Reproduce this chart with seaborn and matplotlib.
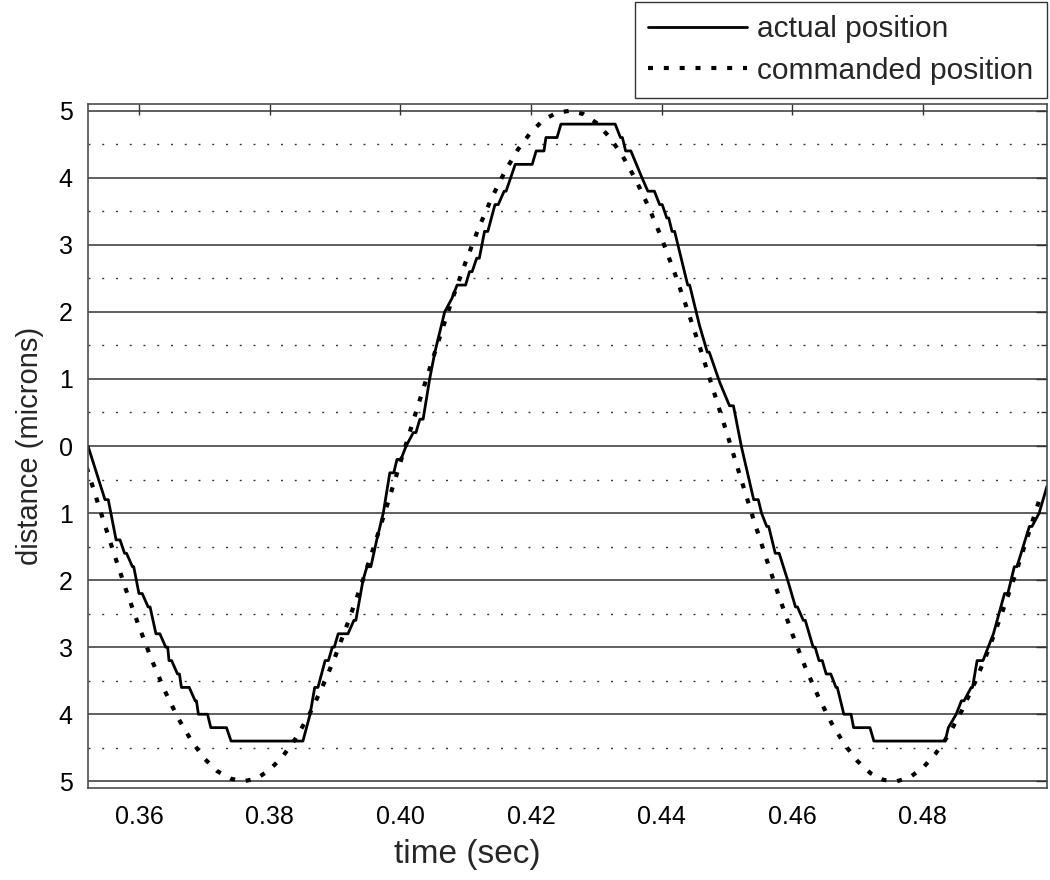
import matplotlib
matplotlib.use("Agg")
import matplotlib.pyplot as plt
import seaborn as sns
from matplotlib.ticker import FixedLocator, FixedFormatter, MultipleLocator

# commanded position (microns), sampled every 2 ms
cmd_t = [0.352, 0.354, 0.356, 0.358, 0.360, 0.362, 0.364, 0.366, 0.368, 0.370,
         0.372, 0.374, 0.376, 0.378, 0.380, 0.382, 0.384, 0.386, 0.388, 0.390,
         0.392, 0.394, 0.396, 0.398, 0.400, 0.402, 0.404, 0.406, 0.408, 0.410,
         0.412, 0.414, 0.416, 0.418, 0.420, 0.422, 0.424, 0.426, 0.428, 0.430,
         0.432, 0.434, 0.436, 0.438, 0.440, 0.442, 0.444, 0.446, 0.448, 0.450,
         0.452, 0.454, 0.456, 0.458, 0.460, 0.462, 0.464, 0.466, 0.468, 0.470,
         0.472, 0.474, 0.476, 0.478, 0.480, 0.482, 0.484, 0.486, 0.488, 0.490,
         0.492, 0.494, 0.496, 0.498]
cmd_y = [-0.32, -0.94, -1.55, -2.14, -2.69, -3.20, -3.66, -4.06, -4.39, -4.66,
         -4.85, -4.96, -5.00, -4.96, -4.83, -4.63, -4.36, -4.02, -3.61, -3.15,
         -2.63, -2.08, -1.49, -0.88, -0.25, 0.38, 1.00, 1.61, 2.20, 2.74,
         3.25, 3.70, 4.09, 4.42, 4.68, 4.87, 4.97, 5.00, 4.95, 4.82,
         4.61, 4.33, 3.98, 3.57, 3.10, 2.58, 2.02, 1.43, 0.81, 0.19,
         -0.44, -1.07, -1.67, -2.25, -2.80, -3.30, -3.74, -4.13, -4.45, -4.70,
         -4.88, -4.98, -5.00, -4.94, -4.80, -4.58, -4.30, -3.94, -3.52, -3.05,
         -2.52, -1.96, -1.36, -0.75]

# actual position (microns), stair-stepped readout
act_t = [0.3522,
         0.3548, 0.3553, 0.3565, 0.3571, 0.3578, 0.3581, 0.3590, 0.3592,
         0.3600, 0.3605, 0.3614, 0.3617, 0.3626, 0.3632, 0.3641, 0.3644,
         0.3646, 0.3650, 0.3659, 0.3662, 0.3665, 0.3677, 0.3686, 0.3688,
         0.3691, 0.3705, 0.3710, 0.3734, 0.3741, 0.3851,
         0.3862, 0.3869, 0.3874, 0.3885, 0.3890, 0.3896, 0.3899, 0.3905,
         0.3920, 0.3929, 0.3932, 0.3943, 0.3949, 0.3955, 0.3964, 0.3974,
         0.3984, 0.3990, 0.3995, 0.4001, 0.4009, 0.4020, 0.4024, 0.4030,
         0.4035, 0.4045, 0.4053, 0.4068, 0.4079, 0.4087, 0.4100, 0.4106,
         0.4110, 0.4117, 0.4121, 0.4129, 0.4134, 0.4145, 0.4150, 0.4159,
         0.4162, 0.4169, 0.4176, 0.4202, 0.4208, 0.4220, 0.4223, 0.4240,
         0.4246, 0.4329,
         0.4337, 0.4340, 0.4345, 0.4353, 0.4370, 0.4379, 0.4389, 0.4397,
         0.4401, 0.4408, 0.4411, 0.4416, 0.4420, 0.4430, 0.4440, 0.4443,
         0.4458, 0.4470, 0.4473, 0.4489, 0.4504, 0.4510, 0.4522, 0.4541,
         0.4548, 0.4553, 0.4561, 0.4564, 0.4574, 0.4580, 0.4593, 0.4605,
         0.4608, 0.4617, 0.4620, 0.4632, 0.4635, 0.4641, 0.4646, 0.4652,
         0.4659, 0.4667, 0.4669, 0.4679, 0.4690, 0.4694, 0.4719, 0.4725,
         0.4834,
         0.4839, 0.4851, 0.4859, 0.4863, 0.4874, 0.4876, 0.4883, 0.4892,
         0.4900, 0.4908, 0.4925, 0.4930, 0.4940, 0.4944, 0.4963, 0.4967,
         0.4978, 0.4990]
act_y = [0.00,
         -0.80, -0.80, -1.40, -1.40, -1.60, -1.60, -1.80, -1.80,
         -2.20, -2.20, -2.40, -2.40, -2.80, -2.80, -3.00, -3.00,
         -3.20, -3.20, -3.40, -3.40, -3.60, -3.60, -3.80, -3.80,
         -4.00, -4.00, -4.20, -4.20, -4.40, -4.40,
         -4.00, -3.60, -3.60, -3.20, -3.20, -3.00, -3.00, -2.80,
         -2.80, -2.60, -2.60, -2.00, -1.80, -1.80, -1.40, -1.00,
         -0.40, -0.40, -0.20, -0.20, 0.00, 0.20, 0.20, 0.40,
         0.40, 1.00, 1.40, 2.00, 2.20, 2.40, 2.40, 2.60,
         2.60, 2.80, 2.80, 3.20, 3.20, 3.60, 3.60, 3.80,
         3.80, 4.00, 4.20, 4.20, 4.40, 4.40, 4.60, 4.60,
         4.80, 4.80,
         4.60, 4.60, 4.40, 4.40, 4.00, 3.80, 3.80, 3.60,
         3.60, 3.40, 3.40, 3.20, 3.20, 2.80, 2.40, 2.40,
         1.80, 1.40, 1.40, 0.95, 0.60, 0.60, 0.00, -0.80,
         -0.80, -1.00, -1.20, -1.20, -1.60, -1.60, -2.00, -2.40,
         -2.40, -2.60, -2.60, -3.00, -3.00, -3.20, -3.20, -3.40,
         -3.40, -3.60, -3.60, -4.00, -4.00, -4.20, -4.20, -4.40,
         -4.40,
         -4.20, -4.00, -3.80, -3.80, -3.60, -3.60, -3.20, -3.20,
         -3.00, -2.80, -2.20, -2.20, -1.80, -1.80, -1.20, -1.20,
         -1.00, -0.60]

x_ticks = [0.36, 0.38, 0.40, 0.42, 0.44, 0.46, 0.48]
x_tick_labels = ["0.36", "0.38", "0.40", "0.42", "0.44", "0.46", "0.48"]
y_ticks = [-5, -4, -3, -2, -1, 0, 1, 2, 3, 4, 5]
y_tick_labels = ["5", "4", "3", "2", "1", "0", "1", "2", "3", "4", "5"]

sns.set_style("white")
plt.rcParams['font.family'] = ['Liberation Sans', 'DejaVu Sans']

fig = plt.figure(figsize=(10.5, 8.8), dpi=100)
ax = fig.add_axes([88 / 1050, 1 - 788 / 880, (1047 - 88) / 1050, (788 - 104) / 880])

sns.lineplot(x=act_t, y=act_y, ax=ax, color="black", linewidth=2.0,
             estimator=None, sort=False, label="actual position")
sns.lineplot(x=cmd_t, y=cmd_y, ax=ax, color="black", linewidth=3.0,
             linestyle=(0, (1.2, 2.6)), estimator=None, sort=False,
             label="commanded position")
ax.get_legend().remove()

ax.set_xlim(0.3522, 0.499)
ax.set_ylim(-5.1, 5.1)

ax.xaxis.set_major_locator(FixedLocator(x_ticks))
ax.xaxis.set_major_formatter(FixedFormatter(x_tick_labels))
ax.yaxis.set_major_locator(FixedLocator(y_ticks))
ax.yaxis.set_major_formatter(FixedFormatter(y_tick_labels))
ax.yaxis.set_minor_locator(MultipleLocator(0.5))

ax.tick_params(axis="both", which="both", direction="in", top=True, right=True,
               color="0.2", labelsize=18, labelcolor="black")
ax.tick_params(axis="both", which="major", length=8, width=1)
ax.tick_params(axis="y", which="minor", length=4, width=1)
ax.tick_params(axis="x", which="major", pad=12)
ax.tick_params(axis="y", which="major", pad=11)

ax.set_axisbelow(True)
ax.yaxis.grid(True, which="major", color="0.2", linestyle="-", linewidth=1.1)
ax.yaxis.grid(True, which="minor", color="0.2", linestyle=(0, (1.4, 8.5)), linewidth=1.0)
ax.xaxis.grid(False)

for s in ax.spines.values():
    s.set_color("0.3")
    s.set_linewidth(1.2)

ax.set_xlabel("time (sec)", fontsize=24)
ax.xaxis.set_label_coords((467 - 88) / 959, -0.075)
ax.set_ylabel("distance (microns)", fontsize=21)
ax.yaxis.set_label_coords(-0.046, 0.5)

handles, labels = ax.get_legend_handles_labels()
leg = fig.legend(handles, labels, loc="upper right",
                 bbox_to_anchor=(1047 / 1050, 1 - 2 / 880), borderaxespad=0,
                 fontsize=21.5, frameon=True, fancybox=False, edgecolor="black",
                 handlelength=3.3, handletextpad=0.35, borderpad=0.45,
                 labelspacing=0.45)
leg.get_frame().set_linewidth(1.0)

fig.savefig("out.png", dpi=100)
